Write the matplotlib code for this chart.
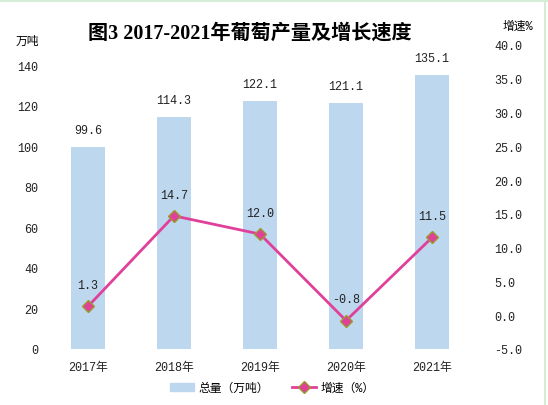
import matplotlib
matplotlib.use("Agg")
import matplotlib.pyplot as plt
from matplotlib.lines import Line2D
from matplotlib.patches import Patch

plt.rcParams['font.family'] = ['Liberation Mono', 'Noto Sans CJK SC', 'DejaVu Sans']

years = ['2017年', '2018年', '2019年', '2020年', '2021年']
total = [99.6, 114.3, 122.1, 121.1, 135.1]
growth = [1.3, 14.7, 12.0, -0.8, 11.5]

bar_color = '#BDD7EE'
line_color = '#E0409A'

fig = plt.figure(figsize=(5.48, 4.06), dpi=100)
ax = fig.add_axes([0.082, 0.138, 0.785, 0.749])
ax2 = ax.twinx()

x = list(range(len(years)))
ax.bar(x, total, width=0.4, color=bar_color, zorder=1)
for xi, v in zip(x, total):
    ax.annotate('%.1f' % v, (xi, v), xytext=(0, 8), textcoords='offset points',
                ha='center', va='bottom', fontsize=8.5, color='#222222')

ax2.plot(x, growth, color=line_color, lw=2, marker='D', ms=6,
         mfc=line_color, mec='#9A9A30', mew=1, zorder=3)
for xi, v in zip(x, growth):
    ax2.annotate('%.1f' % v, (xi, v), xytext=(0, 11), textcoords='offset points',
                 ha='center', va='bottom', fontsize=8.5, color='#222222')

ax.set_xlim(-0.5, 4.5)
ax.set_ylim(0, 150)
ax.set_yticks(range(0, 141, 20))
ax2.set_ylim(-5, 40)
ax2.set_yticks([-5, 0, 5, 10, 15, 20, 25, 30, 35, 40])
ax2.set_yticklabels(['%.1f' % t for t in ax2.get_yticks()])
ax.set_xticks(x)
ax.set_xticklabels(years)

for a in (ax, ax2):
    for s in a.spines.values():
        s.set_visible(False)
    a.tick_params(length=0, labelsize=8.5, colors='#222222')
ax.tick_params(axis='y', pad=5)
ax2.tick_params(axis='y', pad=14)
ax.tick_params(axis='x', pad=9)

fig.text(0.455, 0.918, '图3 2017-2021年葡萄产量及增长速度', ha='center', va='center',
         fontsize=14.5, fontweight='bold',
         family=['Liberation Serif', 'Noto Sans CJK SC'])
fig.text(0.05, 0.897, '万吨', ha='center', va='center', fontsize=8.5)
fig.text(0.945, 0.933, '增速%', ha='center', va='center', fontsize=8.5)

handles = [Patch(color=bar_color),
           Line2D([], [], color=line_color, lw=2, marker='D', ms=6,
                  mfc=line_color, mec='#9A9A30')]
fig.legend(handles, ['总量（万吨）', '增速（%）'], loc='center', ncol=2,
           bbox_to_anchor=(0.497, 0.042), frameon=False, fontsize=8.5,
           handlelength=2.0, handletextpad=0.4, columnspacing=2.0)

# thin green frame edges like the reference screenshot
fig.add_artist(Line2D([0, 1], [0.997, 0.997], color='#D5EDD5', lw=2))
fig.add_artist(Line2D([0.995, 0.995], [0, 1], color='#D5EDD5', lw=1.5))

fig.savefig('out.png', dpi=100)
